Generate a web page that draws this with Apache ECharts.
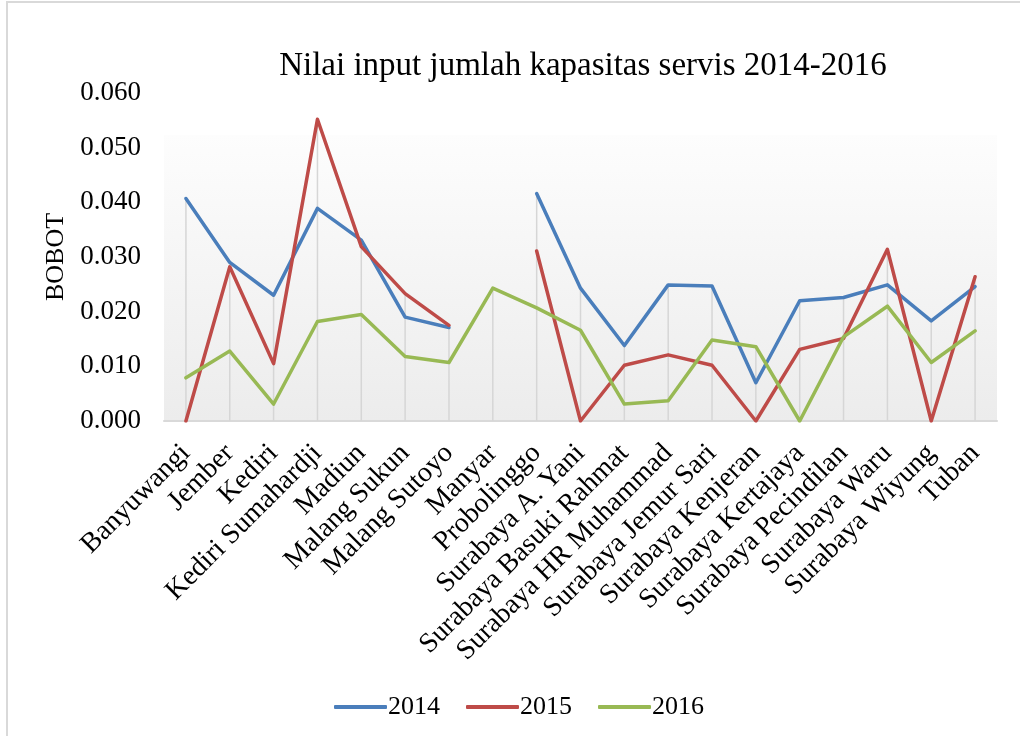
<!DOCTYPE html>
<html>
<head>
<meta charset="utf-8">
<script src="https://cdn.jsdelivr.net/npm/echarts@6/dist/echarts.min.js"></script>
<style>
html,body{margin:0;padding:0;background:#fff;}
#chart{width:1020px;height:736px;}
</style>
</head>
<body>
<div id="chart"></div>
<script>
const categories = ["Banyuwangi","Jember","Kediri","Kediri Sumahardji","Madiun","Malang Sukun","Malang Sutoyo","Manyar","Probolinggo","Surabaya A. Yani","Surabaya Basuki Rahmat","Surabaya HR Muhammad","Surabaya Jemur Sari","Surabaya Kenjeran","Surabaya Kertajaya","Surabaya Pecindilan","Surabaya Waru","Surabaya Wiyung","Tuban"];
const s2014 = [0.0407,0.0290,0.0230,0.0389,0.0331,0.0190,0.0171,null,0.0416,0.0243,0.0138,0.0249,0.0247,0.0070,0.0220,0.0226,0.0249,0.0183,0.0246];
const s2015 = [0.0000,0.0282,0.0105,0.0552,0.0319,0.0233,0.0175,null,0.0311,0.0000,0.0102,0.0121,0.0102,0.0000,0.0131,0.0151,0.0314,0.0000,0.0264];
const s2016 = [0.0079,0.0128,0.0031,0.0182,0.0195,0.0118,0.0107,0.0243,0.0207,0.0166,0.0031,0.0037,0.0148,0.0136,0.0000,0.0154,0.0210,0.0107,0.0165];
const seriesNames = ["2014","2015","2016"];
const colors = ["#4a7ebb","#be4b48","#98b954"];

// drop lines: from the highest point of each category down to the axis
const dropTops = categories.map((c, i) => Math.max(...[s2014[i], s2015[i], s2016[i]].filter(v => v != null)));

const FONT = "'Liberation Serif', 'Times New Roman', serif";
const chart = echarts.init(document.getElementById('chart'));
const mk = (name, data, color) => ({
  name, type: 'line', data, showSymbol: false, symbol: 'none', connectNulls: false,
  lineStyle: { color, width: 3.5, cap: 'round', join: 'round' }, itemStyle: { color },
  emphasis: { disabled: true }, z: 3
});
chart.setOption({
  animation: false,
  textStyle: { fontFamily: FONT, color: '#000' },
  title: {
    text: 'Nilai input jumlah kapasitas servis 2014-2016',
    left: 578, top: 45, textAlign: 'center',
    textStyle: { fontFamily: FONT, fontSize: 33, fontWeight: 'normal', color: '#000' }
  },
  graphic: [
    { type: 'rect', shape: { x: 7, y: 2, width: 1100, height: 1000 }, style: { fill: 'none', stroke: '#d9d9d9', lineWidth: 2 }, z: -10, silent: true },
    { type: 'rect', shape: { x: 164, y: 135, width: 833, height: 286 },
      style: { fill: new echarts.graphic.LinearGradient(0, 0, 0, 1, [{ offset: 0, color: '#fdfdfd' }, { offset: 1, color: '#ececec' }]) },
      z: -5, silent: true }
  ],
  legend: {
    data: seriesNames, left: 329, top: 689,
    icon: 'roundRect', itemWidth: 53, itemHeight: 4, itemGap: 26,
    textStyle: { fontFamily: FONT, fontSize: 26, color: '#000', padding: [0, 0, 0, -4] }
  },
  grid: { left: 164, right: 23, top: 93, bottom: 315, containLabel: false },
  xAxis: {
    type: 'category', data: categories, boundaryGap: true,
    axisLine: { show: true, lineStyle: { color: '#d9d9d9', width: 2 } },
    axisTick: { show: false },
    splitLine: { show: false },
    axisLabel: { interval: 0, rotate: 45, margin: 28, fontFamily: FONT, fontSize: 28, color: '#000' }
  },
  yAxis: {
    type: 'value', min: 0, max: 0.06, interval: 0.01,
    name: 'BOBOT', nameLocation: 'middle', nameGap: 94, nameRotate: 90,
    nameTextStyle: { fontFamily: FONT, fontSize: 26, color: '#000' },
    axisLine: { show: false }, axisTick: { show: false }, splitLine: { show: false },
    axisLabel: { margin: 23, fontFamily: FONT, fontSize: 27, color: '#000', formatter: v => v.toFixed(3) }
  },
  series: [
    { name: 'drop', type: 'bar', data: dropTops, barWidth: 1.5, itemStyle: { color: '#d6d6d6' }, silent: true, z: 1, legendHoverLink: false },
    mk(seriesNames[0], s2014, colors[0]), mk(seriesNames[1], s2015, colors[1]), mk(seriesNames[2], s2016, colors[2])
  ]
});
</script>
</body>
</html>
